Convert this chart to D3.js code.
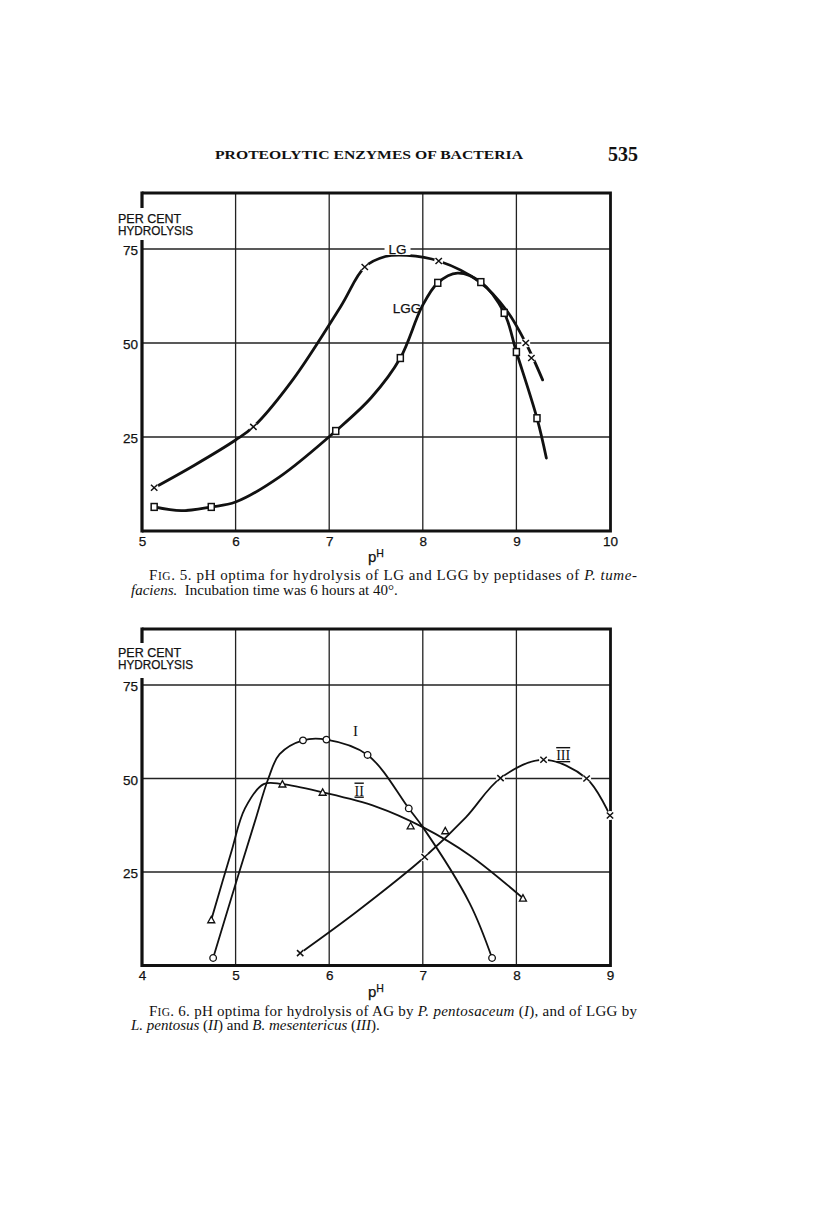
<!DOCTYPE html>
<html>
<head>
<meta charset="utf-8">
<script src="https://cdn.jsdelivr.net/npm/d3@7"></script>
<style>
  body { margin: 0; background: #fff; }
  svg { display: block; }
  .sans { font-family: "Liberation Sans", Arial, sans-serif; fill: #111; stroke: #111; stroke-width: 0.25px; }
  .serif { font-family: "Liberation Serif", "DejaVu Serif", serif; fill: #111; }
</style>
</head>
<body>
<svg id="page" width="816" height="1231"></svg>
<script>
// ---- data ----
const headerTitle = 'PROTEOLYTIC ENZYMES OF BACTERIA';
const pageNumber = '535';
const yTicks = [25, 50, 75];

// Fig. 5
const fig5Ticks = [5, 6, 7, 8, 9, 10];
const lgCurve = [[5.13, 11.5], [5.56, 17.5], [6.0, 24.2], [6.19, 27.7], [6.61, 40.2], [7.12, 59.6], [7.38, 70.2],
  [7.6, 73], [7.83, 73.3], [8.17, 71.8], [8.61, 66.2], [8.9, 58.5], [9.10, 50], [9.28, 40.2]];
const lgMarks = [[5.13, 11.5], [6.19, 27.7], [7.38, 70.2], [8.17, 71.8], [9.10, 50], [9.16, 46]];
const lggCurve = [[5.13, 6.4], [5.42, 5.4], [5.74, 6.4], [6.0, 7.7], [6.47, 14.4], [7.07, 26.6], [7.45, 35.5],
  [7.76, 46], [7.99, 59.6], [8.16, 66], [8.37, 68.6], [8.62, 66.2], [8.87, 58], [9.0, 47.6], [9.22, 30], [9.32, 19.4]];
const lggMarks = [[5.13, 6.4], [5.74, 6.4], [7.07, 26.6], [7.76, 46], [8.16, 66], [8.62, 66.2], [8.87, 58], [9.0, 47.6], [9.22, 30]];

// Fig. 6
const fig6Ticks = [4, 5, 6, 7, 8, 9];
const curveI = [[4.76, 2], [4.99, 21], [5.2, 38], [5.35, 50], [5.47, 56.5], [5.72, 60.2], [5.97, 60.4],
  [6.41, 56.3], [6.85, 42], [7.0, 37], [7.5, 16.7], [7.74, 2]];
const marksI = [[4.76, 2], [5.72, 60.2], [5.97, 60.4], [6.41, 56.3], [6.85, 42], [7.74, 2]];
const curveII = [[4.74, 12.2], [4.95, 30], [5.1, 42], [5.3, 48.5], [5.5, 48.5], [5.93, 46.3], [6.5, 42.5],
  [7.0, 37], [7.5, 29.5], [8.07, 18]];
const marksII = [[4.74, 12.2], [5.5, 48.5], [5.93, 46.3], [6.87, 37.3], [7.24, 36], [8.07, 18]];
const curveIII = [[5.69, 3.3], [6.3, 14.5], [7.02, 29], [7.46, 39.6], [7.83, 50.1], [8.29, 55], [8.75, 50], [9.0, 40.1]];
const marksIII = [[5.69, 3.3], [7.02, 29], [7.83, 50.1], [8.29, 55], [8.75, 50], [9.0, 40.1]];

const caption5 = [
  [['F', ''], ['IG', 'sc'], ['. 5. pH optima for hydrolysis of LG and LGG by peptidases of ', ''], ['P. tume-', 'i']],
  [['faciens.', 'i'], ['  Incubation time was 6 hours at 40°.', '']]
];
const caption6 = [
  [['F', ''], ['IG', 'sc'], ['. 6. pH optima for hydrolysis of AG by ', ''], ['P. pentosaceum', 'i'], [' (', ''], ['I', 'i'], ['), and of LGG by', '']],
  [['L. pentosus', 'i'], [' (', ''], ['II', 'i'], [') and ', ''], ['B. mesentericus', 'i'], [' (', ''], ['III', 'i'], [').', '']]
];

const svg = d3.select('#page');

// header
svg.append('text').attr('class', 'serif')
  .attr('x', 215).attr('y', 159)
  .attr('textLength', 308).attr('lengthAdjust', 'spacingAndGlyphs')
  .style('font-size', '13px').style('font-weight', 'bold')
  .text(headerTitle);
svg.append('text').attr('class', 'serif')
  .attr('x', 638).attr('y', 161).attr('text-anchor', 'end')
  .style('font-size', '20px').style('font-weight', 'bold')
  .text(pageNumber);

function drawMarks(g, data, type, x, y) {
  const sel = g.append('g').selectAll('g').data(data).join('g')
    .attr('transform', d => `translate(${x(d[0])},${y(d[1])})`);
  if (type === 'x') {
    sel.append('circle').attr('r', 4.5).attr('fill', '#fff');
    sel.append('path').attr('d', 'M-3.2,-3L3.2,3M3.2,-3L-3.2,3')
      .attr('stroke', '#111').attr('stroke-width', 1.5).attr('fill', 'none');
  } else if (type === 'square') {
    sel.append('rect').attr('x', -3).attr('y', -3.4).attr('width', 6).attr('height', 6.8)
      .attr('fill', '#fff').attr('stroke', '#111').attr('stroke-width', 1.5);
  } else if (type === 'circle') {
    sel.append('circle').attr('r', 3.3).attr('fill', '#fff')
      .attr('stroke', '#111').attr('stroke-width', 1.3);
  } else if (type === 'triangle') {
    sel.append('path').attr('d', 'M0,-3.5L3.5,2.9L-3.5,2.9Z').attr('fill', '#fff')
      .attr('stroke', '#111').attr('stroke-width', 1.3);
  }
}

function drawCaption(lines, x1, x2, y0) {
  lines.forEach((segs, i) => {
    const t = svg.append('text').attr('class', 'serif')
      .attr('x', i === 0 ? x1 : 131).attr('y', y0 + i * 14.5)
      .style('font-size', '15px').style('white-space', 'pre');
    if (i === 0) t.attr('textLength', x2 - x1).attr('lengthAdjust', 'spacing');
    segs.forEach(([txt, st]) => {
      const s = t.append('tspan').text(txt);
      if (st === 'i') s.style('font-style', 'italic');
      if (st === 'sc') s.style('font-size', '11.5px');
    });
  });
}

function drawFigure(fig) {
  const x = d3.scaleLinear().domain(fig.xDomain).range([142, 610]);
  const y = d3.scaleLinear().domain([0, 75]).range([fig.y0, fig.y75]);
  const top = Math.round(y(90));
  const bottom = y(0);
  const g = svg.append('g');

  // grid
  g.append('g').selectAll('line').data(fig.ticks.slice(1, -1)).join('line')
    .attr('x1', d => x(d)).attr('x2', d => x(d)).attr('y1', top).attr('y2', bottom)
    .attr('stroke', '#222').attr('stroke-width', 1.3);
  g.append('g').selectAll('line').data(yTicks).join('line')
    .attr('x1', 142).attr('x2', 610).attr('y1', d => y(d)).attr('y2', d => y(d))
    .attr('stroke', '#222').attr('stroke-width', 1.3);

  // frame
  const frame = g.append('g').attr('stroke', '#111').attr('fill', 'none');
  frame.append('path').attr('d', `M142,${top}H610.5V${bottom}H142`).attr('stroke-width', 2.8);
  frame.append('path')
    .attr('d', `M142,${top - 1.5}V${top + fig.gap[0]}M142,${top + fig.gap[1]}V${bottom + 1.5}`)
    .attr('stroke-width', 3.2);

  // axis titles
  g.append('text').attr('class', 'sans').attr('x', 118).attr('y', top + fig.titleY)
    .style('font-size', '12.5px').text('PER CENT');
  g.append('text').attr('class', 'sans').attr('x', 118).attr('y', top + fig.titleY + 12)
    .style('font-size', '12.5px').attr('textLength', 75).attr('lengthAdjust', 'spacingAndGlyphs')
    .text('HYDROLYSIS');

  // tick labels via axes
  const yAxis = g.append('g').attr('transform', 'translate(138,1.5)')
    .call(d3.axisLeft(y).tickValues(yTicks).tickSize(0).tickPadding(0));
  const xAxis = g.append('g').attr('transform', `translate(0,${bottom + 5})`)
    .call(d3.axisBottom(x).tickValues(fig.ticks).tickFormat(d3.format('d')).tickSize(0).tickPadding(0));
  [yAxis, xAxis].forEach(a => {
    a.select('.domain').remove();
    a.selectAll('text').attr('class', 'sans').style('font-size', '13.5px')
      .style('font-family', '"Liberation Sans", Arial, sans-serif').attr('fill', '#111');
  });
  yAxis.selectAll('text').attr('dy', '0.32em');

  const ph = g.append('text').attr('class', 'sans').attr('x', 368).attr('y', bottom + fig.phY)
    .style('font-size', '15px');
  ph.append('tspan').text('p');
  ph.append('tspan').attr('dy', -5).style('font-size', '10.5px').text('H');

  const line = d3.line().x(d => x(d[0])).y(d => y(d[1])).curve(d3.curveCatmullRom.alpha(0.5));
  fig.series.forEach(s => {
    g.append('path').attr('d', line(s.curve)).attr('fill', 'none')
      .attr('stroke', '#111').attr('stroke-width', fig.curveWidth).attr('stroke-linecap', 'round');
  });
  fig.series.forEach(s => drawMarks(g, s.marks, s.marker, x, y));

  fig.labels.forEach(l => {
    if (l.bg) {
      g.append('rect').attr('x', x(l.ph) - l.bg / 2).attr('y', y(l.v) - 6).attr('width', l.bg).attr('height', 12)
        .attr('fill', '#fff');
    }
    const t = g.append('text').attr('class', l.serif ? 'serif' : 'sans')
      .attr('x', x(l.ph)).attr('y', y(l.v)).attr('text-anchor', 'middle').attr('dy', '0.36em')
      .style('font-size', l.size + 'px').text(l.text);
    if (l.deco) t.style('text-decoration', 'overline underline');
  });

  drawCaption(fig.caption, 149, 637, bottom + fig.capY);
}

drawFigure({
  xDomain: [5, 10], ticks: fig5Ticks, y0: 531, y75: 249,
  gap: [15, 47], titleY: 30, phY: 31, capY: 49, curveWidth: 2.8,
  series: [
    { curve: lgCurve, marks: lgMarks, marker: 'x' },
    { curve: lggCurve, marks: lggMarks, marker: 'square' }
  ],
  labels: [
    { text: 'LG', ph: 7.73, v: 75, size: 13.5, bg: 26 },
    { text: 'LGG', ph: 7.83, v: 59.3, size: 13.5 }
  ],
  caption: caption5
});

drawFigure({
  xDomain: [4, 9], ticks: fig6Ticks, y0: 965.5, y75: 685,
  gap: [14, 49], titleY: 27.5, phY: 31, capY: 50, curveWidth: 1.8,
  series: [
    { curve: curveI, marks: marksI, marker: 'circle' },
    { curve: curveII, marks: marksII, marker: 'triangle' },
    { curve: curveIII, marks: marksIII, marker: 'x' }
  ],
  labels: [
    { text: 'I', ph: 6.28, v: 62.8, size: 15, serif: true },
    { text: 'II', ph: 6.32, v: 46.8, size: 14, serif: true, deco: true },
    { text: 'III', ph: 8.5, v: 56.3, size: 14, serif: true, deco: true }
  ],
  caption: caption6
});
</script>
</body>
</html>
